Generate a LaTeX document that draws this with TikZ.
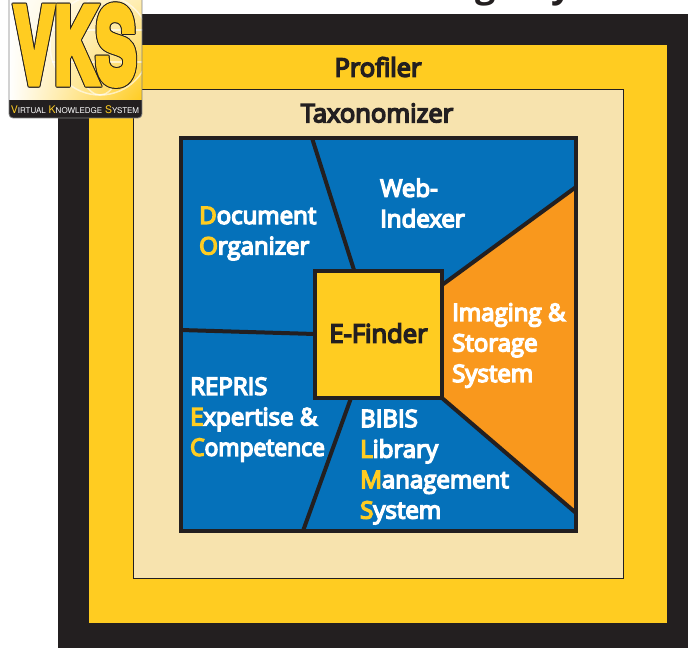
\documentclass[tikz,border=0pt]{standalone}
\usepackage{fontspec}
\usepackage{graphicx}
\setmainfont{Open Sans}
\newfontfamily\labelfont{Open Sans}[FakeBold=6]
\newfontfamily\logofont{TeX Gyre Heros}
\newfontfamily\vksfont{TeX Gyre Heros Bold}[FakeBold=7]
\usetikzlibrary{shapes, calc, positioning, shadings}

\definecolor{vksblack}{HTML}{231F20}
\definecolor{vksyellow}{HTML}{FFCC21}
\definecolor{vkscream}{HTML}{F7E3AE}
\definecolor{vksblue}{HTML}{0571BA}
\definecolor{vksorange}{HTML}{F9981D}
\newcommand{\ini}[1]{\textcolor{vksyellow}{#1}}
\newcommand{\sml}[1]{{\fontsize{8}{8}\selectfont #1}}
\newcommand{\vkstext}{\scalebox{.58}[1]{\fontsize{104}{104}\selectfont\vksfont VKS}}

\tikzset{
    frame/.style={draw=vksblack, line width=1pt},
    divider/.style={draw=vksblack, line width=4pt},
    panel/.style={text=white, font=\fontsize{24}{30.5}\selectfont\labelfont, align=left, inner sep=0pt},
    heading/.style={text=vksblack, font=\fontsize{25.5}{25.5}\selectfont\labelfont, inner sep=0pt},
    globeline/.style={draw=white, draw opacity=.6, line width=1.5pt},
}

\begin{document}
\begin{tikzpicture}[x=1pt, y=-1pt]
    \useasboundingbox (0,0) rectangle (688,648);

    % Nested frames
    \fill[vksblack] (58,14) rectangle (688,648);
    \filldraw[frame, fill=vksyellow] (88,44) rectangle (667,623);
    \filldraw[frame, fill=vkscream] (133,89) rectangle (623,578);
    \node[heading] (profiler) at (378,67) {Profiler};
    \node[heading] (taxonomizer) at (377,113) {Taxonomizer};

    % Title remains at the top edge
    \node[anchor=base, text=vksblack, font=\fontsize{36}{36}\selectfont\bfseries, inner sep=0pt] (titleg) at (486,-3) {g};
    \node[anchor=base, text=vksblack, font=\fontsize{36}{36}\selectfont\bfseries, inner sep=0pt] (titley) at (562,-3) {y};

    % Inner square
    \coordinate (nw) at (181,138);
    \coordinate (se) at (576,531);
    \fill[vksblue] (nw) rectangle (se);

    % Points on the square and on the E-Finder box
    \coordinate (topcut) at (312,138);
    \coordinate (leftcut) at (181,330);
    \coordinate (botcut) at (303,531);
    \coordinate (orangetop) at (576,187);
    \coordinate (orangebot) at (576,513);
    \coordinate (boxtop) at (354,270);
    \coordinate (boxleft) at (315,334);
    \coordinate (boxbot) at (351,398);
    \coordinate (boxne) at (442,285);
    \coordinate (boxse) at (442,398);

    \fill[vksorange] (boxne) -- (orangetop) -- (orangebot) -- (boxse) -- cycle;
    \draw[divider] (topcut) -- (boxtop);
    \draw[divider] (leftcut) -- (boxleft);
    \draw[divider] (botcut) -- (boxbot);
    \draw[divider] (boxne) -- (orangetop);
    \draw[divider] (boxse) -- (orangebot);
    \draw[divider] (nw) rectangle (se);

    \node[divider, fill=vksyellow, text=vksblack, font=\fontsize{25.5}{25.5}\selectfont\labelfont,
        minimum size=127pt, inner sep=0pt] (efinder) at (378.5,334) {\raisebox{2pt}{E-Finder}};

    % Panel labels
    \node[panel, anchor=west] (docorg) at (199,233.5) {\ini{D}ocument\\\ini{O}rganizer};
    \node[panel, anchor=west] (webindex) at (380,203) {Web-\\Indexer};
    \node[panel, anchor=west] (imaging) at (452,345.5) {Imaging \&\\Storage\\System};
    \node[panel, anchor=west] (repris) at (190,419.5) {REPRIS\\\ini{E}xpertise \&\\\scalebox{.95}[1]{\ini{C}ompetence}};
    \node[panel, anchor=west] (bibis) at (360,467) {BIBIS\\\ini{L}ibrary\\\ini{M}anagement\\\ini{S}ystem};

    % Logo
    \begin{scope}
        \clip[rounded corners=4pt] (9,-8) rectangle (142,118);
        \shade[upper left=white, upper right=vksyellow!35, lower left=white, lower right=vksyellow] (9,0) rectangle (142,100);
        \draw[globeline] (100,45) circle (50);
        \draw[globeline] (100,45) ellipse (24 and 50);
        \draw[globeline] (52,30) -- (148,30);
        \draw[globeline] (52,62) -- (148,62);
        \fill[vksblack] (9,100) rectangle (142,118);
    \end{scope}
    \draw[gray, line width=.8pt, rounded corners=4pt] (9,-8) rectangle (142,118);
    \foreach \dx/\dy in {-1/0,1/0,0/-1,0/1,-.7/-.7,.7/-.7,-.7/.7,.7/.7} {
        \node[anchor=base, inner sep=0pt, text=vksblack] at ($(75,83)+(\dx,\dy)$) {\vkstext};
    }
    \node[anchor=base, inner sep=0pt, text=vksyellow] (vks) at (75,83) {\vkstext};
    \node[anchor=base, inner sep=0pt, text=white, font=\fontsize{10.5}{10.5}\selectfont\logofont] (vkstag) at (75,113)
        {\ini{V}\sml{IRTUAL} \ini{K}\sml{NOWLEDGE} \ini{S}\sml{YSTEM}};
\end{tikzpicture}
\end{document}
